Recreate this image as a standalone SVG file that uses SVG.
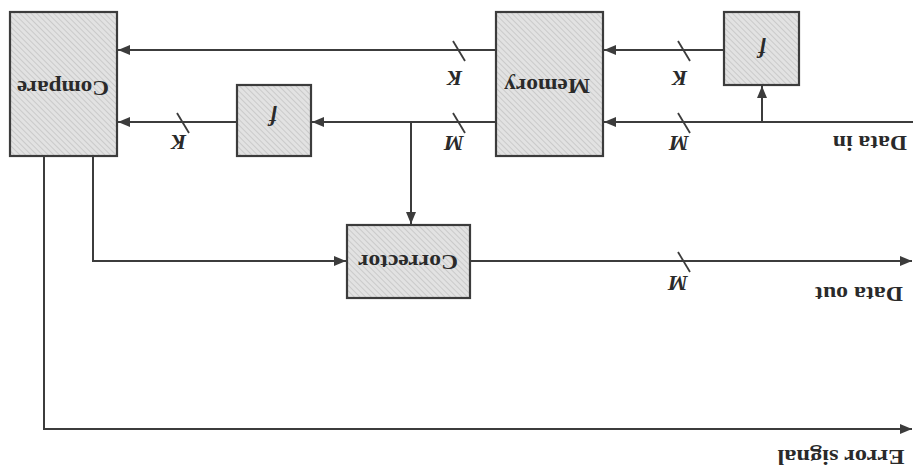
<svg xmlns="http://www.w3.org/2000/svg" width="913" height="468" viewBox="0 0 913 468">
<style>
.box{stroke:#3c3c3c;stroke-width:2.2;fill:url(#hatch)}
.ln{stroke:#3c3c3c;stroke-width:2;fill:none}
.sl{stroke:#3c3c3c;stroke-width:1.8}
.lbl{font-family:"Liberation Serif",serif;font-weight:bold;font-size:22px;fill:#2a2a2a}
.var{font-family:"Liberation Serif",serif;font-style:italic;font-weight:bold;font-size:22px;fill:#2a2a2a}
</style>
<defs>
<pattern id="hatch" width="4" height="4" patternUnits="userSpaceOnUse" patternTransform="rotate(-45)">
<rect width="4" height="4" fill="#e2e2e2"/>
<line x1="0" y1="0" x2="0" y2="4" stroke="#bdbdbd" stroke-width="1.3"/>
</pattern>
<marker id="ah" viewBox="0 0 12 10" refX="12" refY="5" markerWidth="12" markerHeight="10" markerUnits="userSpaceOnUse" orient="auto">
<path d="M0,0 L12,5 L0,10 z" fill="#3c3c3c"/>
</marker>
</defs>
<rect width="913" height="468" fill="#ffffff"/>
<g id="connectors">
<path class="ln" d="M496,50 H118" marker-end="url(#ah)"/>
<path class="ln" d="M724,50 H604" marker-end="url(#ah)"/>
<path class="ln" d="M913,122 H604" marker-end="url(#ah)"/>
<path class="ln" d="M762,122 V86" marker-end="url(#ah)"/>
<path class="ln" d="M496,122 H312" marker-end="url(#ah)"/>
<path class="ln" d="M411,122 V224" marker-end="url(#ah)"/>
<path class="ln" d="M237,122 H118" marker-end="url(#ah)"/>
<path class="ln" d="M93,156 V261 H346" marker-end="url(#ah)"/>
<path class="ln" d="M470,261 H912" marker-end="url(#ah)"/>
<path class="ln" d="M44,156 V429 H912" marker-end="url(#ah)"/>
<line class="sl" x1="453" y1="41" x2="465" y2="61"/>
<line class="sl" x1="453" y1="113" x2="465" y2="133"/>
<line class="sl" x1="177" y1="113" x2="189" y2="133"/>
<line class="sl" x1="678" y1="41" x2="690" y2="61"/>
<line class="sl" x1="678" y1="113" x2="690" y2="133"/>
<line class="sl" x1="678" y1="252" x2="690" y2="272"/>
<text class="var" x="455" y="78" transform="rotate(180 455 78)" text-anchor="middle" dominant-baseline="central">K</text>
<text class="var" x="454" y="143" transform="rotate(180 454 143)" text-anchor="middle" dominant-baseline="central">M</text>
<text class="var" x="179" y="142" transform="rotate(180 179 142)" text-anchor="middle" dominant-baseline="central">K</text>
<text class="var" x="680" y="78" transform="rotate(180 680 78)" text-anchor="middle" dominant-baseline="central">K</text>
<text class="var" x="679" y="143" transform="rotate(180 679 143)" text-anchor="middle" dominant-baseline="central">M</text>
<text class="var" x="678" y="283" transform="rotate(180 678 283)" text-anchor="middle" dominant-baseline="central">M</text>
<text class="lbl" x="870" y="143" transform="rotate(180 870 143)" text-anchor="middle" dominant-baseline="central" textLength="74" lengthAdjust="spacingAndGlyphs">Data in</text>
<text class="lbl" x="859" y="294" transform="rotate(180 859 294)" text-anchor="middle" dominant-baseline="central" textLength="88" lengthAdjust="spacingAndGlyphs">Data out</text>
<text class="lbl" x="841" y="457" transform="rotate(180 841 457)" text-anchor="middle" dominant-baseline="central" textLength="127" lengthAdjust="spacingAndGlyphs">Error signal</text>
</g>
<g id="compare">
<rect class="box" x="10" y="12" width="107" height="144"/>
<text class="lbl" x="63" y="88" transform="rotate(180 63 88)" text-anchor="middle" dominant-baseline="central" textLength="92" lengthAdjust="spacingAndGlyphs">Compare</text>
</g>
<g id="memory">
<rect class="box" x="496" y="12" width="107" height="144"/>
<text class="lbl" x="547" y="86" transform="rotate(180 547 86)" text-anchor="middle" dominant-baseline="central" textLength="86" lengthAdjust="spacingAndGlyphs">Memory</text>
</g>
<g id="f-left">
<rect class="box" x="237" y="85" width="74" height="71"/>
<text class="var" x="273" y="118" transform="rotate(180 273 118)" text-anchor="middle" dominant-baseline="central" font-size="26">f</text>
</g>
<g id="f-right">
<rect class="box" x="724" y="12" width="75" height="73"/>
<text class="var" x="762" y="50" transform="rotate(180 762 50)" text-anchor="middle" dominant-baseline="central" font-size="26">f</text>
</g>
<g id="corrector">
<rect class="box" x="347" y="225" width="123" height="73"/>
<text class="lbl" x="408" y="262" transform="rotate(180 408 262)" text-anchor="middle" dominant-baseline="central" textLength="100" lengthAdjust="spacingAndGlyphs">Corrector</text>
</g>
</svg>
